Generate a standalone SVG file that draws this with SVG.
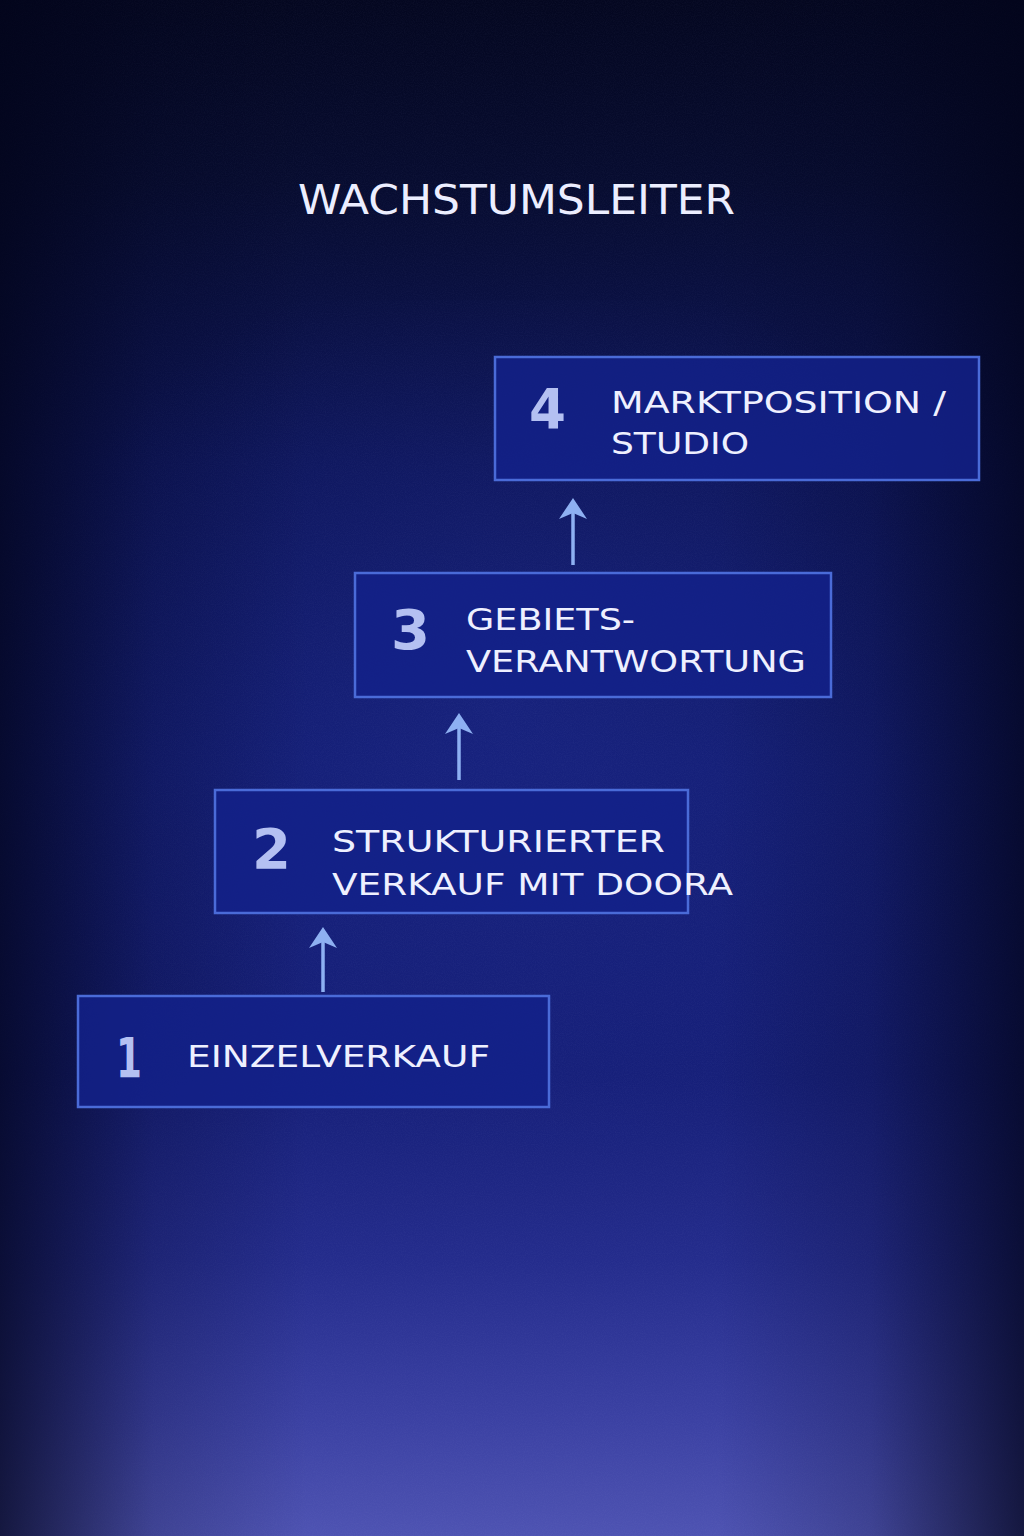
<svg xmlns="http://www.w3.org/2000/svg" width="1024" height="1536" viewBox="0 0 1024 1536">
  <defs>
    <linearGradient id="bgV" x1="0" y1="0" x2="0" y2="1">
      <stop offset="0" stop-color="#040720"/>
      <stop offset="0.12" stop-color="#070c30"/>
      <stop offset="0.3" stop-color="#0d1558"/>
      <stop offset="0.5" stop-color="#121c70"/>
      <stop offset="0.7" stop-color="#161f78"/>
      <stop offset="0.82" stop-color="#242c8c"/>
      <stop offset="0.92" stop-color="#3a40a2"/>
      <stop offset="1" stop-color="#4e53b2"/>
    </linearGradient>
    <linearGradient id="vigH" x1="0" y1="0" x2="1" y2="0">
      <stop offset="0" stop-color="#02041a" stop-opacity="0.75"/>
      <stop offset="0.15" stop-color="#02041a" stop-opacity="0.2"/>
      <stop offset="0.3" stop-color="#02041a" stop-opacity="0"/>
      <stop offset="0.7" stop-color="#02041a" stop-opacity="0"/>
      <stop offset="0.85" stop-color="#02041a" stop-opacity="0.2"/>
      <stop offset="1" stop-color="#02041a" stop-opacity="0.75"/>
    </linearGradient>
    <radialGradient id="glow" cx="0.5" cy="0.45" r="0.5">
      <stop offset="0" stop-color="#2a38b0" stop-opacity="0.25"/>
      <stop offset="1" stop-color="#2a38b0" stop-opacity="0"/>
    </radialGradient>
    <filter id="grain" x="0" y="0" width="100%" height="100%">
      <feTurbulence type="fractalNoise" baseFrequency="0.9" numOctaves="2" seed="3" result="n"/>
      <feColorMatrix type="matrix" values="0 0 0 0 0.5  0 0 0 0 0.55  0 0 0 0 0.9  0 0 0 0.6 -0.2" in="n"/>
    </filter>
    <marker id="head" viewBox="-1 -16 24 32" refX="10" refY="0" markerWidth="24" markerHeight="32" markerUnits="userSpaceOnUse" orient="auto">
      <path d="M0,-14 L21,0 L0,14 L6,0 Z" fill="#8eb0f2"/>
    </marker>
    <style>
      .box { fill: #13218a; fill-opacity: 0.85; stroke: #4a6bd8; stroke-width: 2.5; }
      .num { font-family: "DejaVu Sans", "Liberation Sans", sans-serif; font-weight: bold; font-size: 56px; fill: #b4c0f2; }
      .lbl { font-family: "DejaVu Sans", "Liberation Sans", sans-serif; font-size: 31px; fill: #eef0ff; }
      .title { font-family: "DejaVu Sans", "Liberation Sans", sans-serif; font-size: 40px; fill: #eceeff; }
      .arrow { fill: none; stroke: #8eb0f2; stroke-width: 3.5; marker-end: url(#head); }
    </style>
  </defs>

  <g id="background">
    <rect x="0" y="0" width="1024" height="1536" fill="url(#bgV)"/>
    <rect x="0" y="300" width="1024" height="900" fill="url(#glow)"/>
    <rect x="0" y="0" width="1024" height="1536" filter="url(#grain)" opacity="0.12"/>
    <rect x="0" y="0" width="1024" height="1536" fill="url(#vigH)"/>
  </g>

  <g id="title">
    <text class="title" x="298" y="214" textLength="437" lengthAdjust="spacingAndGlyphs">WACHSTUMSLEITER</text>
  </g>

  <g id="connectors">
    <path class="arrow" d="M573,565 L573,509"/>
    <path class="arrow" d="M459,780 L459,724"/>
    <path class="arrow" d="M323,992 L323,938"/>
  </g>

  <g id="step4">
    <rect class="box" x="495" y="357" width="484" height="123"/>
    <text class="num" x="529" y="428" textLength="37" lengthAdjust="spacingAndGlyphs">4</text>
    <text class="lbl" x="611" y="413" textLength="335" lengthAdjust="spacingAndGlyphs">MARKTPOSITION /</text>
    <text class="lbl" x="611" y="454" textLength="138" lengthAdjust="spacingAndGlyphs">STUDIO</text>
  </g>

  <g id="step3">
    <rect class="box" x="355" y="573" width="476" height="124"/>
    <text class="num" x="391" y="649" textLength="39" lengthAdjust="spacingAndGlyphs">3</text>
    <text class="lbl" x="466" y="630" textLength="169" lengthAdjust="spacingAndGlyphs">GEBIETS-</text>
    <text class="lbl" x="466" y="672" textLength="340" lengthAdjust="spacingAndGlyphs">VERANTWORTUNG</text>
  </g>

  <g id="step2">
    <rect class="box" x="215" y="790" width="473" height="123"/>
    <text class="num" x="252" y="868" textLength="39" lengthAdjust="spacingAndGlyphs">2</text>
    <text class="lbl" x="332" y="852" textLength="333" lengthAdjust="spacingAndGlyphs">STRUKTURIERTER</text>
    <text class="lbl" x="332" y="895" textLength="401" lengthAdjust="spacingAndGlyphs">VERKAUF MIT DOORA</text>
  </g>

  <g id="step1">
    <rect class="box" x="78" y="996" width="471" height="111"/>
    <text class="num" x="116" y="1077" textLength="26" lengthAdjust="spacingAndGlyphs">1</text>
    <text class="lbl" x="187" y="1067" textLength="303" lengthAdjust="spacingAndGlyphs">EINZELVERKAUF</text>
  </g>
</svg>
